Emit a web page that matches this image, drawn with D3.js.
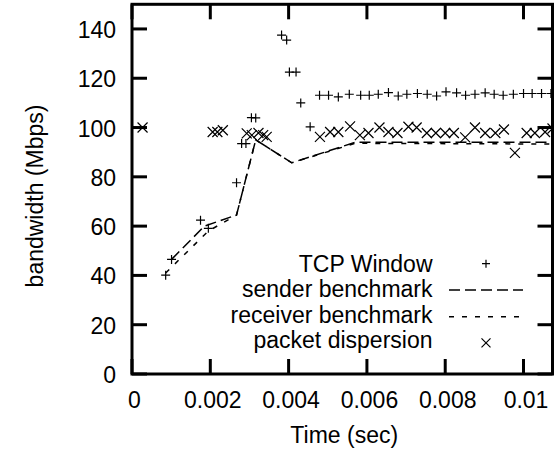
<!DOCTYPE html>
<html>
<head>
<meta charset="utf-8">
<script src="https://cdn.jsdelivr.net/npm/d3@7.9.0/dist/d3.min.js"></script>
<style>
  html, body { margin: 0; padding: 0; background: #fff; }
</style>
</head>
<body>
<svg id="chart" width="557" height="454"></svg>
<script>
// --- data ---
const xTicks = [0, 0.002, 0.004, 0.006, 0.008, 0.01];
const xTickLabels = ["0", "0.002", "0.004", "0.006", "0.008", "0.01"];
const yTicks = [0, 20, 40, 60, 80, 100, 120, 140];

// TCP Window (+ markers)
const tcpTime = [0.00086, 0.00101, 0.00175, 0.00195, 0.00267, 0.0028, 0.00291, 0.00305, 0.00316,
  0.00382, 0.00395, 0.00402, 0.00419, 0.00431, 0.00455, 0.00479, 0.00502, 0.00527, 0.00555,
  0.00584, 0.00606, 0.00629, 0.00655, 0.0068, 0.00702, 0.00729, 0.00754, 0.00778, 0.00802,
  0.00829, 0.00852, 0.00876, 0.00902, 0.00925, 0.00948, 0.00974, 0.01, 0.01022, 0.01046, 0.0107];
const tcpBw = [40.1, 46.5, 62.4, 59.1, 77.6, 93.5, 93.5, 104, 103.9,
  137.5, 135.5, 122.5, 122.5, 110, 100.3, 113.1, 113.1, 112.4, 113.5,
  113.1, 113.1, 113.5, 114.2, 112.8, 113.5, 113.8, 113.5, 112.8, 114.5,
  114.1, 113.1, 113.5, 114.1, 113.5, 113.1, 113.5, 113.8, 113.8, 113.8, 113.8];

// sender benchmark (long dashes)
const senderTime = [0.00101, 0.00185, 0.00267, 0.00316, 0.00408, 0.0057, 0.0108];
const senderBw = [46.5, 60, 64.5, 95, 85.7, 94, 94];

// receiver benchmark (short dashes)
const receiverTime = [0.00086, 0.00195, 0.00267, 0.00316, 0.00408, 0.0057, 0.0108];
const receiverBw = [41, 58, 64.5, 95, 85.7, 93.6, 93.3];

// packet dispersion (x markers)
const pdTime = [0.00027, 0.00206, 0.00218, 0.00232, 0.00293, 0.00306, 0.00323, 0.00335, 0.00344,
  0.0048, 0.00506, 0.00527, 0.00557, 0.00582, 0.00604, 0.00632, 0.00655, 0.00678, 0.00706,
  0.00727, 0.00753, 0.00776, 0.008, 0.00822, 0.00851, 0.00876, 0.00902, 0.00928, 0.0095,
  0.00978, 0.01008, 0.01029, 0.01055, 0.01074];
const pdBw = [100, 98.2, 98.2, 98.9, 97.6, 96.9, 97.8, 96.9, 96.2,
  96.2, 98.2, 98.2, 100.5, 96.9, 97.8, 100, 98.2, 97.8, 100.3,
  100, 97.8, 97.8, 97.8, 97.8, 96, 100, 97.8, 97.8, 99.2,
  89.7, 97.8, 97.8, 98.2, 99.6];

const legendLabels = ["TCP Window", "sender benchmark", "receiver benchmark", "packet dispersion"];

// --- layout ---
const plotL = 132, plotR = 552.5, plotT = 4.3, plotB = 374;
const fontFam = '"Liberation Sans", Arial, sans-serif';
const fontSize = 23;
const svg = d3.select('#chart');

const x = d3.scaleLinear().domain([0, 0.01074]).range([plotL, plotR]);
const y = d3.scaleLinear().domain([0, 150]).range([plotB, plotT]);

const zip = (xs, ys) => xs.map((t, i) => [t, ys[i]]);

svg.append('defs').append('clipPath').attr('id', 'plotclip')
  .append('rect').attr('x', plotL).attr('y', plotT)
  .attr('width', plotR - plotL).attr('height', plotB - plotT);

const tickLen = 15;

// ticks (mirrored on all four sides)
const tickG = svg.append('g').attr('stroke', '#000').attr('stroke-width', 3);
xTicks.forEach(t => {
  tickG.append('line').attr('x1', x(t)).attr('x2', x(t)).attr('y1', plotB).attr('y2', plotB - tickLen);
  tickG.append('line').attr('x1', x(t)).attr('x2', x(t)).attr('y1', plotT).attr('y2', plotT + tickLen);
});
yTicks.forEach(t => {
  tickG.append('line').attr('x1', plotL).attr('x2', plotL + tickLen).attr('y1', y(t)).attr('y2', y(t));
  tickG.append('line').attr('x1', plotR).attr('x2', plotR - tickLen).attr('y1', y(t)).attr('y2', y(t));
});

const txt = (g) => g.append('text').attr('font-family', fontFam)
  .attr('font-size', fontSize).attr('fill', '#000');

// tick labels
xTicks.forEach((t, i) => {
  txt(svg).attr('x', x(t) + 2.5).attr('y', 408)
    .attr('text-anchor', 'middle').text(xTickLabels[i]);
});
yTicks.forEach(t => {
  txt(svg).attr('x', 116).attr('y', y(t) + 9)
    .attr('text-anchor', 'end').text(t);
});

// axis titles
txt(svg).attr('x', (plotL + plotR) / 2 + 2).attr('y', 443)
  .attr('text-anchor', 'middle').text('Time (sec)');
txt(svg).attr('transform', 'translate(43,196) rotate(-90)')
  .attr('text-anchor', 'middle').text('bandwidth (Mbps)');

// --- data marks ---
const plot = svg.append('g').attr('clip-path', 'url(#plotclip)');
const line = d3.line().x(d => x(d[0])).y(d => y(d[1]));

plot.append('path').datum(zip(senderTime, senderBw))
  .attr('d', line).attr('fill', 'none').attr('stroke', '#000')
  .attr('stroke-width', 1.5).attr('stroke-dasharray', '11,5');
plot.append('path').datum(zip(receiverTime, receiverBw))
  .attr('d', line).attr('fill', 'none').attr('stroke', '#000')
  .attr('stroke-width', 1.5).attr('stroke-dasharray', '5,8');

const plusPath = (cx, cy, r) => `M${cx - r},${cy}H${cx + r}M${cx},${cy - r}V${cy + r}`;
const crossPath = (cx, cy, r) => `M${cx - r},${cy - r}L${cx + r},${cy + r}M${cx - r},${cy + r}L${cx + r},${cy - r}`;

plot.selectAll('path.tcp').data(zip(tcpTime, tcpBw)).join('path')
  .attr('class', 'tcp')
  .attr('d', d => plusPath(x(d[0]), y(d[1]), 4.5))
  .attr('stroke', '#000').attr('stroke-width', 1.2).attr('fill', 'none');

plot.selectAll('path.pd').data(zip(pdTime, pdBw)).join('path')
  .attr('class', 'pd')
  .attr('d', d => crossPath(x(d[0]), y(d[1]), 5))
  .attr('stroke', '#000').attr('stroke-width', 1.2).attr('fill', 'none');

// --- legend ---
const legX = 432.5, sampleX1 = 449, sampleX2 = 523;
const rowBase = [271.7, 297, 322.7, 348.3];
legendLabels.forEach((lab, i) => {
  txt(svg).attr('x', legX).attr('y', rowBase[i])
    .attr('text-anchor', 'end').text(lab);
});
const midX = (sampleX1 + sampleX2) / 2;
svg.append('path').attr('d', plusPath(midX, rowBase[0] - 8, 4))
  .attr('stroke', '#000').attr('stroke-width', 1.2);
svg.append('line').attr('x1', sampleX1).attr('x2', sampleX2)
  .attr('y1', rowBase[1] - 7).attr('y2', rowBase[1] - 7)
  .attr('stroke', '#000').attr('stroke-width', 1.5).attr('stroke-dasharray', '11,5');
svg.append('line').attr('x1', sampleX1).attr('x2', sampleX2)
  .attr('y1', rowBase[2] - 6).attr('y2', rowBase[2] - 6)
  .attr('stroke', '#000').attr('stroke-width', 1.5).attr('stroke-dasharray', '5,8');
svg.append('path').attr('d', crossPath(midX, rowBase[3] - 5.5, 4.5))
  .attr('stroke', '#000').attr('stroke-width', 1.2);

// frame
svg.append('rect').attr('x', plotL).attr('y', plotT)
  .attr('width', plotR - plotL).attr('height', plotB - plotT)
  .attr('fill', 'none').attr('stroke', '#000').attr('stroke-width', 3);
</script>
</body>
</html>
